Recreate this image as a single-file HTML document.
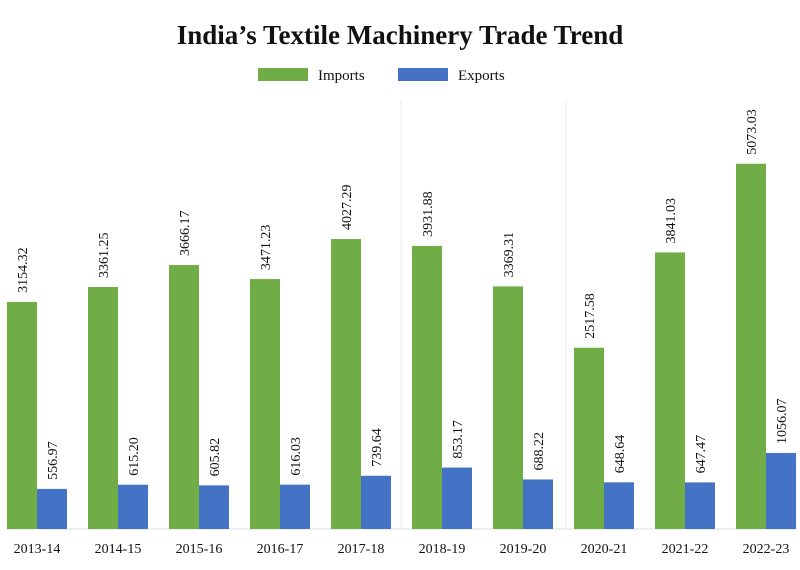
<!DOCTYPE html>
<html><head><meta charset="utf-8"><style>
body{margin:0;background:#fff;}
svg text{font-family:"Liberation Serif",serif;fill:#111;}
</style></head><body>
<svg id="chart" width="800" height="565" xmlns="http://www.w3.org/2000/svg">
<text x="400" y="44" text-anchor="middle" font-size="27" font-weight="bold">India’s Textile Machinery Trade Trend</text>
<g>
<rect x="258" y="68" width="50" height="13" fill="#70ad47"/>
<text x="318" y="80" font-size="15">Imports</text>
<rect x="398" y="68" width="50" height="13" fill="#4472c4"/>
<text x="458" y="80" font-size="15">Exports</text>
</g>
<line x1="7" y1="529" x2="797" y2="529" stroke="#ddd"/>
<line x1="401" y1="100" x2="401" y2="529" stroke="#eee"/>
<line x1="566" y1="100" x2="566" y2="529" stroke="#eee"/>
<g id="bars"></g>
</svg>
<script>
const categories=["2013-14","2014-15","2015-16","2016-17","2017-18","2018-19","2019-20","2020-21","2021-22","2022-23"];
const imports=[3154.32,3361.25,3666.17,3471.23,4027.29,3931.88,3369.31,2517.58,3841.03,5073.03];
const exports=[556.97,615.20,605.82,616.03,739.64,853.17,688.22,648.64,647.47,1056.07];
const base=529, scale=0.072, x0=7, step=81, bw=30;
const y=v=>base-v*scale;
const g=document.getElementById('bars');
const NS='http://www.w3.org/2000/svg';
function bar(x,v,color,name){
  const r=document.createElementNS(NS,'rect');
  r.setAttribute('x',x);r.setAttribute('y',y(v));r.setAttribute('width',bw);r.setAttribute('height',v*scale);r.setAttribute('fill',color);
  
  
  g.appendChild(r);
  const t=document.createElementNS(NS,'text');
  const cx=x+bw/2+5, ty=y(v)-9;
  t.setAttribute('x',cx);t.setAttribute('y',ty);t.setAttribute('font-size','14');
  t.setAttribute('transform','rotate(-90 '+cx+' '+ty+')');
  t.textContent=v.toFixed(2);
  
  
  g.appendChild(t);
}
categories.forEach((c,i)=>{
  const gx=x0+step*i;
  bar(gx,imports[i],'#70ad47','imports-bar-'+c);
  bar(gx+bw,exports[i],'#4472c4','exports-bar-'+c);
  const t=document.createElementNS(NS,'text');
  t.setAttribute('x',gx+bw);t.setAttribute('y',553);t.setAttribute('text-anchor','middle');t.setAttribute('font-size','14');
  t.textContent=c;
  
  
  g.appendChild(t);
});
</script>
</body></html>
